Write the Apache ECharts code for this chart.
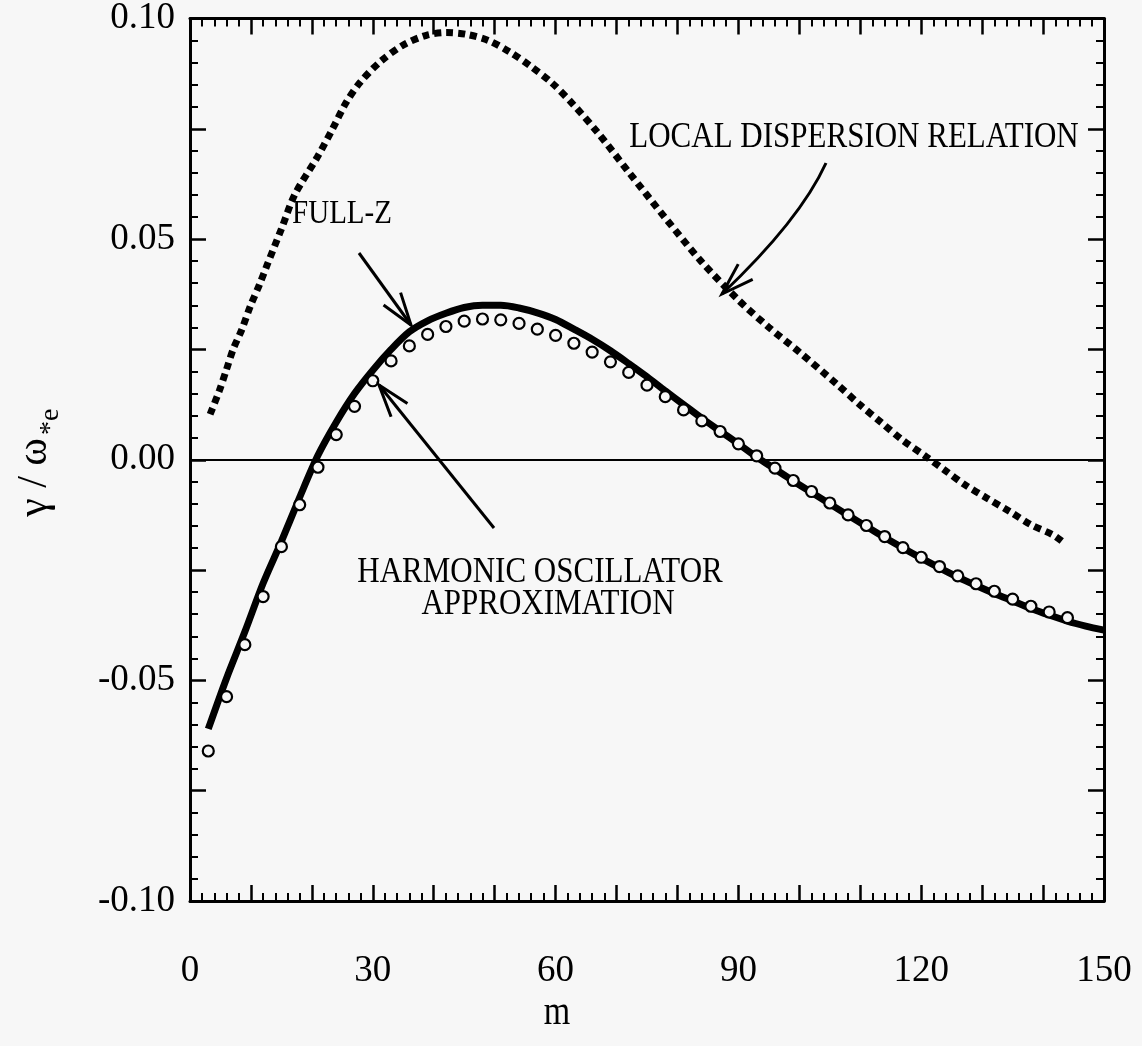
<!DOCTYPE html>
<html>
<head>
<meta charset="utf-8">
<script src="https://cdn.jsdelivr.net/npm/echarts@6/dist/echarts.min.js"></script>
<style>
  html, body { margin: 0; padding: 0; background: #f7f7f7; }
  #chart { width: 1142px; height: 1046px; }
</style>
</head>
<body>
<div id="chart"></div>
<script>
// Growth rate gamma / omega_*e versus toroidal mode number m

// Local dispersion relation (dotted curve)
const localM = [3.3, 4.8, 6.0, 7.1, 8.5, 9.9, 11.4, 12.7, 15.0, 17.2, 20.9, 23.4, 25.6, 27.9,
  31.3, 35.0, 38.8, 42.1, 45.4, 49.0, 52.5, 55.9, 59.4, 62.9, 67, 72, 78, 84, 90, 95, 100,
  106.1, 110.0, 113.4, 116.9, 120.7, 123.9, 127.2, 130.8, 134.6, 138.1, 141.6, 143.3];
const localG = [0.0103, 0.0156, 0.0205, 0.0251, 0.0295, 0.0348, 0.0397, 0.0443, 0.0523, 0.0601,
  0.0686, 0.0750, 0.0809, 0.0855, 0.0903, 0.0940, 0.0962, 0.0968, 0.0964, 0.0950, 0.0924,
  0.0892, 0.0854, 0.0805, 0.0740, 0.0652, 0.0548, 0.0448, 0.0362, 0.0300, 0.0244,
  0.0172, 0.0124, 0.0085, 0.0045, 0.0008, -0.0024, -0.0057, -0.0087, -0.0118, -0.0148,
  -0.0170, -0.0187];

// Full-Z solution (thick solid curve)
const fullM = [3, 6, 9, 12, 15, 18, 21, 24, 27, 30, 33, 36, 39, 42, 45, 48, 51, 54, 57, 60,
  63, 66, 69, 72, 75, 78, 81, 84, 87, 90, 93, 96, 99, 102, 105, 108, 111, 114, 117, 120,
  123, 126, 129, 132, 135, 138, 141, 144, 147, 150];
const fullG = [-0.0610, -0.0495, -0.0390, -0.0280, -0.0185, -0.0085, 0.0010, 0.0085, 0.0150,
  0.0203, 0.0250, 0.0290, 0.0315, 0.0332, 0.0345, 0.0350, 0.0350, 0.0344, 0.0333, 0.0318,
  0.0296, 0.0273, 0.0247, 0.0218, 0.0188, 0.0156, 0.0125, 0.0094, 0.0065, 0.0036, 0.0006,
  -0.0021, -0.0048, -0.0074, -0.0100, -0.0126, -0.0151, -0.0176, -0.0200, -0.0223, -0.0245,
  -0.0266, -0.0285, -0.0303, -0.0320, -0.0337, -0.0352, -0.0366, -0.0377, -0.0386];

// Harmonic oscillator approximation (open circles)
const hoM = [3, 6, 9, 12, 15, 18, 21, 24, 27, 30, 33, 36, 39, 42, 45, 48, 51, 54, 57, 60,
  63, 66, 69, 72, 75, 78, 81, 84, 87, 90, 93, 96, 99, 102, 105, 108, 111, 114, 117, 120,
  123, 126, 129, 132, 135, 138, 141, 144];
const hoG = [-0.0660, -0.0537, -0.0419, -0.0310, -0.0197, -0.0102, -0.0017, 0.0057, 0.0121,
  0.0179, 0.0224, 0.0258, 0.0284, 0.0302, 0.0314, 0.0319, 0.0317, 0.0309, 0.0296, 0.0282,
  0.0264, 0.0244, 0.0222, 0.0198, 0.0169, 0.0143, 0.0113, 0.0088, 0.0064, 0.0036, 0.0009,
  -0.0019, -0.0047, -0.0072, -0.0098, -0.0125, -0.0149, -0.0174, -0.0199, -0.0221, -0.0242,
  -0.0263, -0.0281, -0.0298, -0.0316, -0.0332, -0.0345, -0.0358];

// Axis ticks
const xTicks = [0, 30, 60, 90, 120, 150];
const yTicks = [-0.10, -0.05, 0.00, 0.05, 0.10];

const zip = (a, b) => a.map((v, i) => [v, b[i]]);
const SERIF = '"Liberation Serif", "Times New Roman", serif';

const chart = echarts.init(document.getElementById('chart'), null, { renderer: 'canvas' });

const tickStyle = { color: '#000', width: 2.5 };
const minorStyle = { color: '#000', width: 2 };
const axisLineStyle = { color: '#000', width: 3 };

function xAxisDef(pos, showLabel) {
  return {
    type: 'value', position: pos, min: 0, max: 150, interval: 10,
    axisLine: { show: true, onZero: false, lineStyle: axisLineStyle },
    axisTick: { show: true, inside: true, length: 16, lineStyle: tickStyle },
    minorTick: { show: true, splitNumber: 5, length: 8, lineStyle: minorStyle },
    splitLine: { show: false },
    axisLabel: {
      show: showLabel, margin: 52, color: '#000', fontFamily: SERIF, fontSize: 37,
      formatter: v => xTicks.includes(v) ? String(v) : ''
    }
  };
}
function yAxisDef(pos, showLabel) {
  return {
    type: 'value', position: pos, min: -0.1, max: 0.1, interval: 0.025,
    axisLine: { show: true, onZero: false, lineStyle: axisLineStyle },
    axisTick: { show: true, inside: true, length: 16, lineStyle: tickStyle },
    minorTick: { show: true, splitNumber: 5, length: 8, lineStyle: minorStyle },
    splitLine: { show: false },
    axisLabel: {
      show: showLabel, margin: 15, color: '#000', fontFamily: SERIF, fontSize: 37,
      padding: [12, 0, 0, 0],
      formatter: v => yTicks.some(t => Math.abs(t - v) < 1e-9) ? v.toFixed(2) : ''
    }
  };
}

chart.setOption({
  animation: false,
  backgroundColor: '#f7f7f7',
  grid: { left: 190, right: 38, top: 17, bottom: 145, containLabel: false },
  xAxis: [xAxisDef('bottom', true), xAxisDef('top', false)],
  yAxis: [yAxisDef('left', true), yAxisDef('right', false)],
  series: [
    {
      name: 'LOCAL DISPERSION RELATION', type: 'line', smooth: 0.3,
      data: zip(localM, localG), showSymbol: false, z: 3,
      lineStyle: { color: '#000', width: 7, type: [7, 5], cap: 'butt' }
    },
    {
      name: 'FULL-Z', type: 'line', smooth: 0.3,
      data: zip(fullM, fullG), showSymbol: false, z: 3,
      lineStyle: { color: '#000', width: 7, cap: 'butt' },
      markLine: {
        silent: true, symbol: 'none', label: { show: false },
        lineStyle: { color: '#000', width: 2, type: 'solid' },
        data: [{ yAxis: 0 }]
      }
    },
    {
      name: 'HARMONIC OSCILLATOR APPROXIMATION', type: 'scatter',
      data: zip(hoM, hoG), symbol: 'circle', symbolSize: 11, z: 5,
      itemStyle: { color: '#f7f7f7', borderColor: '#000', borderWidth: 2.2, opacity: 1 }
    }
  ]
});

// Annotation arrows and labels
function head(tip, back, len, ang) {
  const dx = back[0] - tip[0], dy = back[1] - tip[1];
  const d = Math.hypot(dx, dy), ux = dx / d, uy = dy / d;
  const rot = a => [tip[0] + len * (ux * Math.cos(a) - uy * Math.sin(a)),
                    tip[1] + len * (ux * Math.sin(a) + uy * Math.cos(a))];
  return { type: 'polyline', shape: { points: [rot(ang), tip, rot(-ang)] },
    style: { stroke: '#000', lineWidth: 3, fill: null }, z: 10 };
}
function label(text, x, y, size) {
  return { type: 'text', x: x, y: y, z: 10, scaleY: 1.15,
    style: { text: text, fill: '#000', font: size + 'px ' + SERIF, textAlign: 'center', textVerticalAlign: 'middle' } };
}
const A = Math.PI / 10;
const fzTip = [411, 325], fzBack = [359, 253];
const hoTip = [379, 385], hoBack = [494, 528];
const ldTip = [722, 294], ldStart = [826, 163], ldCtrl = [800, 220];

chart.setOption({
  graphic: [
    label('LOCAL DISPERSION RELATION', 854, 138, 31),
    label('FULL-Z', 342, 214, 29),
    label('HARMONIC OSCILLATOR', 540, 573, 31),
    label('APPROXIMATION', 548, 605, 31),
    { type: 'line', shape: { x1: fzBack[0], y1: fzBack[1], x2: fzTip[0], y2: fzTip[1] },
      style: { stroke: '#000', lineWidth: 3 }, z: 10 },
    head(fzTip, fzBack, 34, A),
    { type: 'line', shape: { x1: hoBack[0], y1: hoBack[1], x2: hoTip[0], y2: hoTip[1] },
      style: { stroke: '#000', lineWidth: 3 }, z: 10 },
    head(hoTip, hoBack, 34, A),
    { type: 'bezierCurve', shape: { x1: ldStart[0], y1: ldStart[1], cpx1: ldCtrl[0], cpy1: ldCtrl[1],
        x2: ldTip[0], y2: ldTip[1] }, style: { stroke: '#000', lineWidth: 3, fill: null }, z: 10 },
    head(ldTip, ldCtrl, 34, A),
    // horizontal axis title
    { type: 'text', x: 557, y: 1014, z: 10, scaleY: 1.15,
      style: { text: 'm', fill: '#000', font: '34px ' + SERIF, textAlign: 'center', textVerticalAlign: 'middle' } },
    // vertical axis title: gamma / omega with subscript *e
    { type: 'group', x: 48, y: 446, rotation: Math.PI / 2, z: 10, children: [
      { type: 'text', x: 8, y: -13,
        style: { text: 'γ / ω', fill: '#000', font: '42px ' + SERIF, textAlign: 'right', textVerticalAlign: 'middle' } },
      { type: 'text', x: 11, y: 3,
        style: { text: '*e', fill: '#000', font: '28px ' + SERIF, textAlign: 'left', textVerticalAlign: 'middle' } }
    ] }
  ]
});
</script>
</body>
</html>
